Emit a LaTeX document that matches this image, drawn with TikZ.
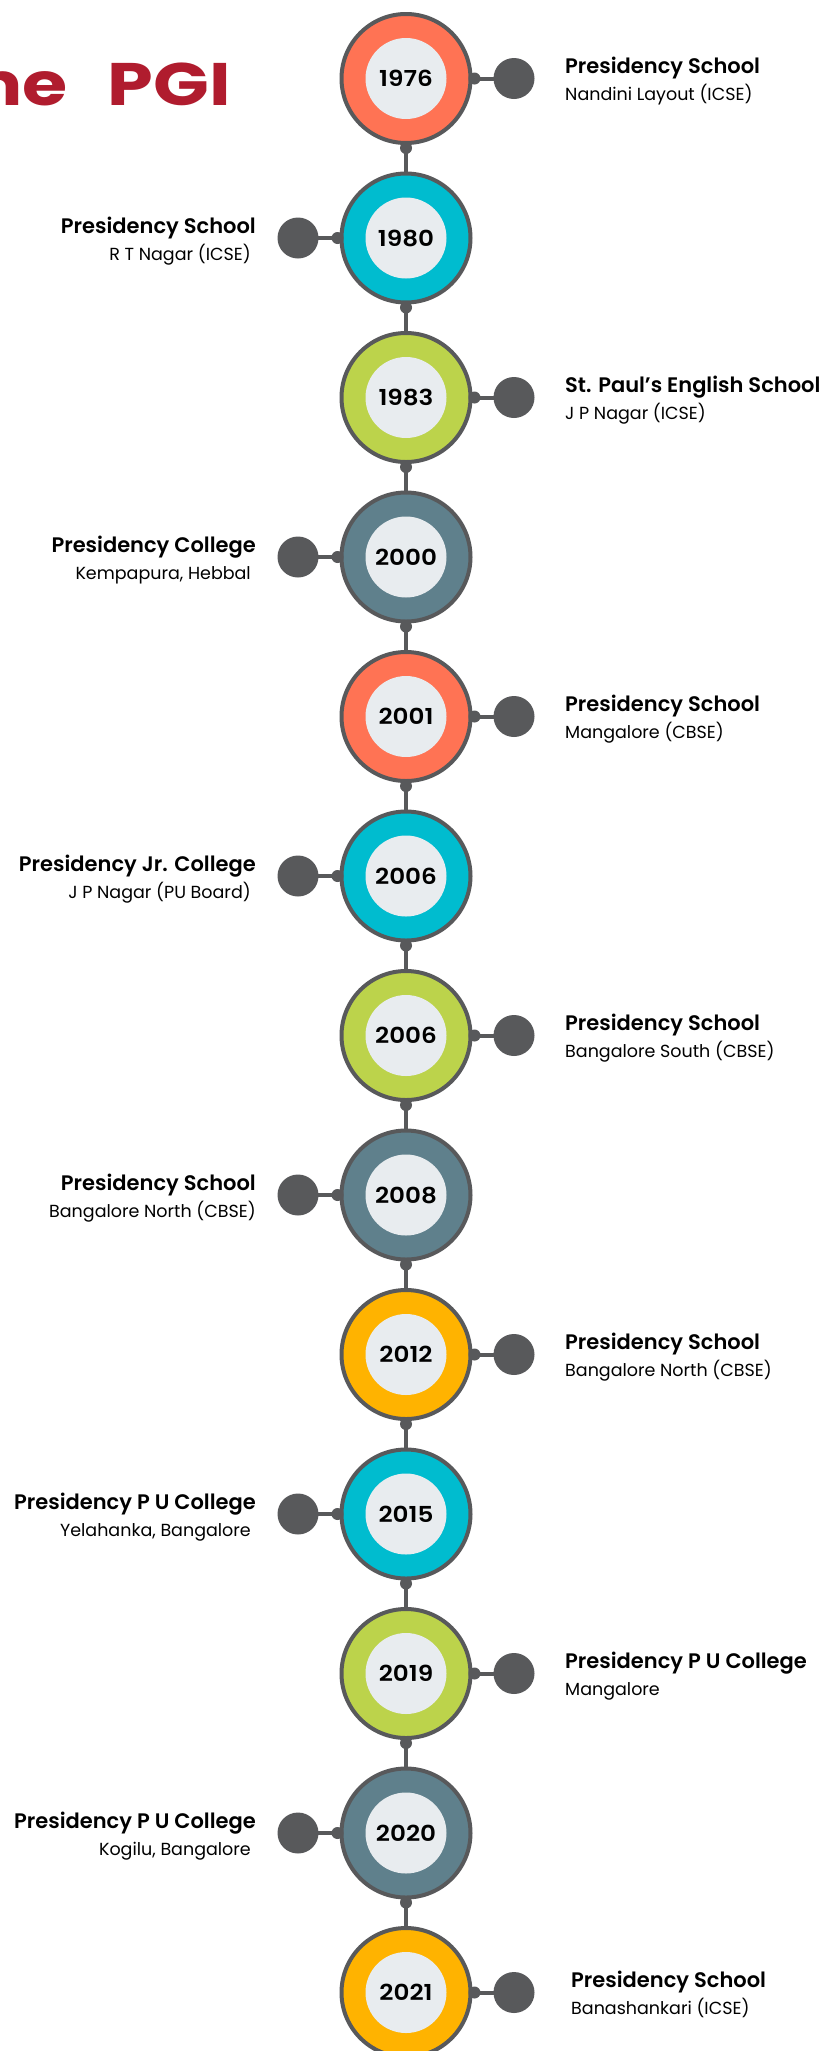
\documentclass[tikz,border=0pt]{standalone}
\usepackage{graphicx}
\usepackage{fontspec}
\setmainfont{Poppins}
\newfontfamily\headfont{Poppins}[UprightFont=* SemiBold]
\newfontfamily\yearfont{Poppins}[UprightFont=* SemiBold, FakeStretch=1.12]
\newfontfamily\titlefont{Poppins}[UprightFont=* Bold]
\definecolor{corange}{HTML}{FF7354}
\definecolor{ccyan}{HTML}{00BCCF}
\definecolor{clime}{HTML}{BCD34B}
\definecolor{cslate}{HTML}{5F808C}
\definecolor{camber}{HTML}{FFB300}
\definecolor{cgray}{HTML}{58595B}
\definecolor{chub}{HTML}{E8ECEF}
\definecolor{ctitle}{HTML}{B01C2E}
\tikzset{
  ring/.style={circle, draw=cgray, line width=4pt, minimum size=129pt, inner sep=0pt},
  hub/.style={circle, fill=chub, minimum size=81pt, inner sep=0pt, font=\yearfont\fontsize{22}{22}\selectfont, text=black},
  dotc/.style={circle, fill=cgray, minimum size=41pt, inner sep=0pt},
  knob/.style={circle, fill=cgray, minimum size=12pt, inner sep=0pt},
  conn/.style={draw=cgray, line width=4pt},
  headR/.style={anchor=base west, inner sep=0pt, font=\headfont\fontsize{21}{21}\selectfont, text=black},
  subR/.style={anchor=base west, inner sep=0pt, font=\fontsize{17.5}{17.5}\selectfont, text=black},
  headL/.style={anchor=base east, inner sep=0pt, font=\headfont\fontsize{21}{21}\selectfont, text=black},
  subL/.style={anchor=base east, inner sep=0pt, font=\fontsize{17.5}{17.5}\selectfont, text=black},
}
\newcommand\tlnode[3]{%
  \node[ring, fill=#3] (c#1) at (406,{78.5+(#1-1)*159.5}) {};
  \node[hub] (h#1) at (c#1.center) {#2};
}
\newcommand\tlright[4][0]{%
  \node[dotc] (d#2) at ([xshift=108pt]c#2.center) {};
  \node[knob] (k#2) at ([xshift=2pt]c#2.east) {};
  \draw[conn] (k#2.center) -- (d#2.center);
  \node[headR] (t#2) at ([shift={({159+#1},-5)}]c#2.center) {#3};
  \node[subR] (s#2) at ([shift={({159+#1},22)}]c#2.center) {#4};
}
\newcommand\tlleft[4][251]{%
  \node[dotc] (d#2) at ([xshift=-108pt]c#2.center) {};
  \node[knob] (k#2) at ([xshift=-2pt]c#2.west) {};
  \draw[conn] (k#2.center) -- (d#2.center);
  \node[headL] (t#2) at ([shift={(-150,-5)}]c#2.center) {#3};
  \node[subL] (s#2) at ([shift={({#1-406},22)}]c#2.center) {#4};
}
\begin{document}
\begin{tikzpicture}[x=1pt,y=-1pt]
\useasboundingbox (0,0) rectangle (821,2051);
\clip (0,0) rectangle (821,2051);
\fill[white] (0,0) rectangle (821,2051);
\node[anchor=base east, inner sep=0pt, text=ctitle, font=\titlefont\fontsize{60}{60}\selectfont] (title) at (231,105) {\scalebox{1.22}[1]{the\kern33pt PGI}};
% vertical spine
\foreach \i in {1,...,12}{
  \draw[conn] (406,{78.5+(\i-1)*159.5}) -- (406,{78.5+\i*159.5});
}
\draw[conn] (406,1992.5) -- (406,2060);
\tlnode{1}{1976}{corange}
\tlnode{2}{1980}{ccyan}
\tlnode{3}{1983}{clime}
\tlnode{4}{2000}{cslate}
\tlnode{5}{2001}{corange}
\tlnode{6}{2006}{ccyan}
\tlnode{7}{2006}{clime}
\tlnode{8}{2008}{cslate}
\tlnode{9}{2012}{camber}
\tlnode{10}{2015}{ccyan}
\tlnode{11}{2019}{clime}
\tlnode{12}{2020}{cslate}
\tlnode{13}{2021}{camber}
\foreach \i in {1,...,12}{
  \node[knob] (b\i) at ([yshift=-3pt]c\i.south) {};
}
\tlright{1}{Presidency School}{Nandini Layout (ICSE)}
\tlleft{2}{Presidency School}{R T Nagar (ICSE)}
\tlright{3}{St. Paul’s English School}{J P Nagar (ICSE)}
\tlleft{4}{Presidency College}{Kempapura, Hebbal}
\tlright{5}{Presidency School}{Mangalore (CBSE)}
\tlleft{6}{Presidency Jr. College}{J P Nagar (PU Board)}
\tlright{7}{Presidency School}{Bangalore South (CBSE)}
\tlleft[256]{8}{Presidency School}{Bangalore North (CBSE)}
\tlright{9}{Presidency School}{Bangalore North (CBSE)}
\tlleft{10}{Presidency P U College}{Yelahanka, Bangalore}
\tlright{11}{Presidency P U College}{Mangalore}
\tlleft{12}{Presidency P U College}{Kogilu, Bangalore}
\tlright[6]{13}{Presidency School}{Banashankari (ICSE)}
\end{tikzpicture}
\end{document}
